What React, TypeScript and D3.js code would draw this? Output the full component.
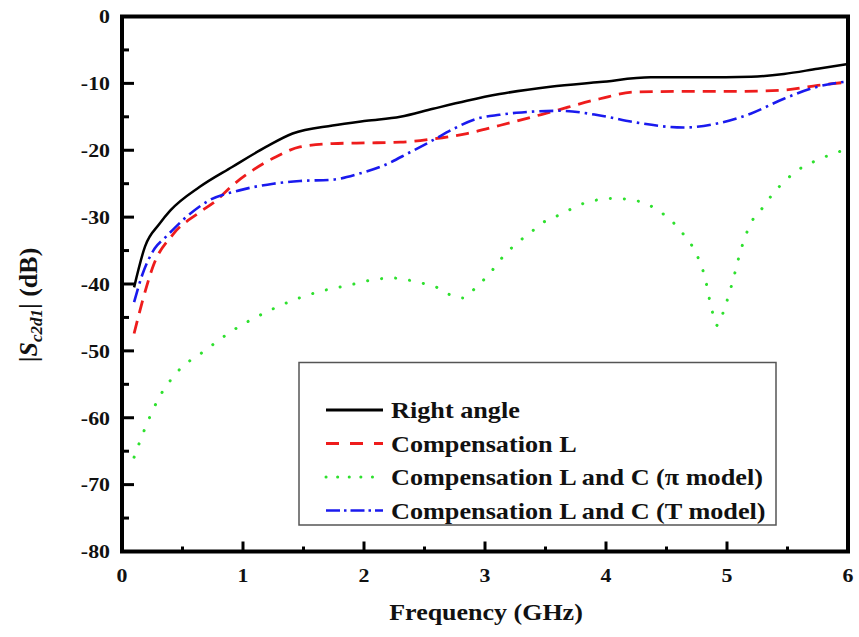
import React from 'react';
import * as d3 from 'd3';

// Frequency (GHz) / |Sc2d1| (dB) samples for each configuration
const rightAngleFreq = [0.1, 0.19, 0.31, 0.4, 0.64, 0.91, 1.19, 1.41, 1.74, 2.02, 2.3, 2.57, 2.85, 3.12, 3.54, 3.95, 4.37, 4.78, 5.2, 5.47, 5.75, 6.0];
const rightAngleDb = [-40.5, -34.4, -31.0, -29.0, -25.5, -22.5, -19.5, -17.5, -16.3, -15.6, -15.0, -13.8, -12.6, -11.6, -10.5, -9.8, -9.1, -9.1, -9.0, -8.6, -7.8, -7.1];

const compLFreq = [0.1, 0.17, 0.26, 0.42, 0.64, 0.78, 0.91, 1.08, 1.27, 1.47, 1.74, 2.02, 2.3, 2.57, 2.85, 3.12, 3.54, 3.95, 4.23, 4.64, 5.06, 5.47, 5.75, 6.0];
const compLDb = [-47.4, -42.5, -37.2, -32.6, -29.3, -27.5, -25.3, -23.0, -21.0, -19.5, -19.0, -18.9, -18.8, -18.3, -17.5, -16.3, -14.3, -12.3, -11.3, -11.2, -11.2, -11.0, -10.3, -9.8];

const compPiFreq = [0.1, 0.19, 0.3, 0.45, 0.69, 0.92, 1.17, 1.39, 1.64, 1.87, 2.1, 2.23, 2.46, 2.59, 2.71, 2.82, 2.93, 3.04, 3.14, 3.25, 3.37, 3.48, 3.61, 3.84, 4.07, 4.2, 4.32, 4.43, 4.55, 4.65, 4.73, 4.82, 4.87, 4.92, 4.98, 5.05, 5.11, 5.2, 5.29, 5.38, 5.49, 5.6, 5.73, 5.85, 6.0];
const compPiDb = [-65.9, -61.6, -57.2, -53.3, -49.9, -46.9, -44.4, -42.6, -41.1, -40.2, -39.3, -39.1, -39.8, -40.4, -41.6, -42.1, -40.4, -38.4, -36.1, -34.1, -32.4, -30.8, -29.7, -27.8, -27.2, -27.4, -27.9, -29.0, -30.7, -32.8, -34.9, -39.2, -43.5, -46.2, -43.6, -39.4, -35.2, -30.8, -28.7, -26.5, -24.4, -22.8, -21.6, -20.7, -19.8];

const compTFreq = [0.1, 0.17, 0.27, 0.36, 0.53, 0.72, 0.97, 1.25, 1.47, 1.74, 1.96, 2.16, 2.38, 2.57, 2.74, 2.93, 3.12, 3.26, 3.62, 3.95, 4.23, 4.64, 4.92, 5.2, 5.47, 5.75, 6.0];
const compTDb = [-42.7, -38.5, -34.7, -33.0, -30.0, -27.5, -26.0, -25.0, -24.6, -24.4, -23.5, -22.3, -20.3, -18.5, -16.8, -15.3, -14.7, -14.4, -14.1, -14.8, -15.8, -16.6, -16.0, -14.5, -12.3, -10.5, -9.7];

const seriesNames = [
  'Right angle',
  'Compensation L',
  'Compensation L and C (\u03c0 model)',
  'Compensation L and C (T model)',
];

const xTickValues = [0, 1, 2, 3, 4, 5, 6];
const yTickValues = [0, -10, -20, -30, -40, -50, -60, -70, -80];

const FONT = "'Liberation Serif'";
const SX = 1.15; // horizontal glyph stretch

type Pt = [number, number];

export default function App() {
  const W = 859;
  const H = 637;
  const left = 122, right = 848, top = 16.5, bottom = 551.5;

  const x = d3.scaleLinear().domain([0, 6]).range([left, right]);
  const y = d3.scaleLinear().domain([-80, 0]).range([bottom, top]);
  const line = d3.line<Pt>().x(d => x(d[0])).y(d => y(d[1])).curve(d3.curveMonotoneX);

  const zip = (f: number[], v: number[]): Pt[] => f.map((fi, i) => [fi, v[i]]);

  const series = [
    { name: seriesNames[0], pts: zip(rightAngleFreq, rightAngleDb), color: '#000000', dash: 'none', width: 2.5, cap: 'butt', legendDash: 'none' },
    { name: seriesNames[1], pts: zip(compLFreq, compLDb), color: '#ee1c1c', dash: '13 8', width: 2.8, cap: 'butt', legendDash: '13 11' },
    { name: seriesNames[2], pts: zip(compPiFreq, compPiDb), color: '#2ee02e', dash: '0.1 14', width: 3, cap: 'round', legendDash: '0.1 11.5' },
    { name: seriesNames[3], pts: zip(compTFreq, compTDb), color: '#1a1aee', dash: '14 5 2.5 5', width: 2.6, cap: 'butt', legendDash: '14 4 2.5 4' },
  ];

  const xMinor = d3.range(0.5, 6, 1);
  const yMinor = d3.range(-75, 0, 10);

  const stretched = (tx: number, ty: number, s = SX) => `translate(${tx},${ty}) scale(${s},1)`;
  const txt: React.CSSProperties = { fontFamily: FONT, fontWeight: 'bold' };

  const legendX = 299, legendY = 362.5, legendW = 477, legendH = 162.5;
  const rowBase = [418, 451.5, 485, 518.5];

  return (
    <svg width={W} height={H} style={{ position: 'absolute', left: 0, top: 0, background: '#fff' }}>
      <rect x={0} y={0} width={W} height={H} fill="#fff" />

      {/* data curves */}
      {series.map(s => (
        <path
          key={s.name}
          d={line(s.pts) || ''}
          fill="none"
          stroke={s.color}
          strokeWidth={s.width}
          strokeDasharray={s.dash}
          strokeLinecap={s.cap as any}
          strokeLinejoin="round"
        />
      ))}

      {/* legend */}
      <rect x={legendX} y={legendY} width={legendW} height={legendH} fill="#fff" stroke="#555" strokeWidth={1.5} />
      {series.map((s, i) => (
        <g key={'lg' + i}>
          <line
            x1={326}
            x2={383}
            y1={rowBase[i] - 8}
            y2={rowBase[i] - 8}
            stroke={s.color}
            strokeWidth={i === 0 ? 3 : s.width}
            strokeDasharray={s.legendDash}
            strokeLinecap={s.cap as any}
          />
          <text transform={stretched(391, rowBase[i], 1.14)} fontSize={23} style={txt} fill="#111">
            {s.name}
          </text>
        </g>
      ))}

      {/* frame */}
      <rect x={left} y={top} width={right - left} height={bottom - top} fill="none" stroke="#000" strokeWidth={4} />

      {/* y ticks */}
      {yTickValues.map(v => (
        <line key={'yt' + v} x1={left} x2={left + 12} y1={y(v)} y2={y(v)} stroke="#000" strokeWidth={3} />
      ))}
      {yMinor.map(v => (
        <line key={'ym' + v} x1={left} x2={left + 7} y1={y(v)} y2={y(v)} stroke="#000" strokeWidth={3} />
      ))}
      {yTickValues.map(v => (
        <text
          key={'yl' + v}
          transform={stretched(110, y(v) + 6.8)}
          textAnchor="end"
          fontSize={19}
          style={txt}
          fill="#111"
        >
          {v}
        </text>
      ))}

      {/* x ticks */}
      {xTickValues.map(v => (
        <line key={'xt' + v} x1={x(v)} x2={x(v)} y1={bottom} y2={bottom - 10} stroke="#000" strokeWidth={3} />
      ))}
      {xMinor.map(v => (
        <line key={'xm' + v} x1={x(v)} x2={x(v)} y1={bottom} y2={bottom - 5} stroke="#000" strokeWidth={3} />
      ))}
      {xTickValues.map(v => (
        <text
          key={'xl' + v}
          transform={stretched(x(v), 582)}
          textAnchor="middle"
          fontSize={19}
          style={txt}
          fill="#111"
        >
          {v}
        </text>
      ))}

      {/* axis titles */}
      <text transform={stretched(486, 620, 1.13)} textAnchor="middle" fontSize={23} style={txt} fill="#111">
        Frequency (GHz)
      </text>
      <text transform="translate(37,305) rotate(-90)" textAnchor="middle" fontSize={26} style={txt} fill="#111">
        <tspan>|</tspan>
        <tspan fontStyle="italic">S</tspan>
        <tspan fontStyle="italic" fontSize={17} dy={5}>c2d1</tspan>
        <tspan dy={-5}>|</tspan>
        <tspan> (dB)</tspan>
      </text>
    </svg>
  );
}
